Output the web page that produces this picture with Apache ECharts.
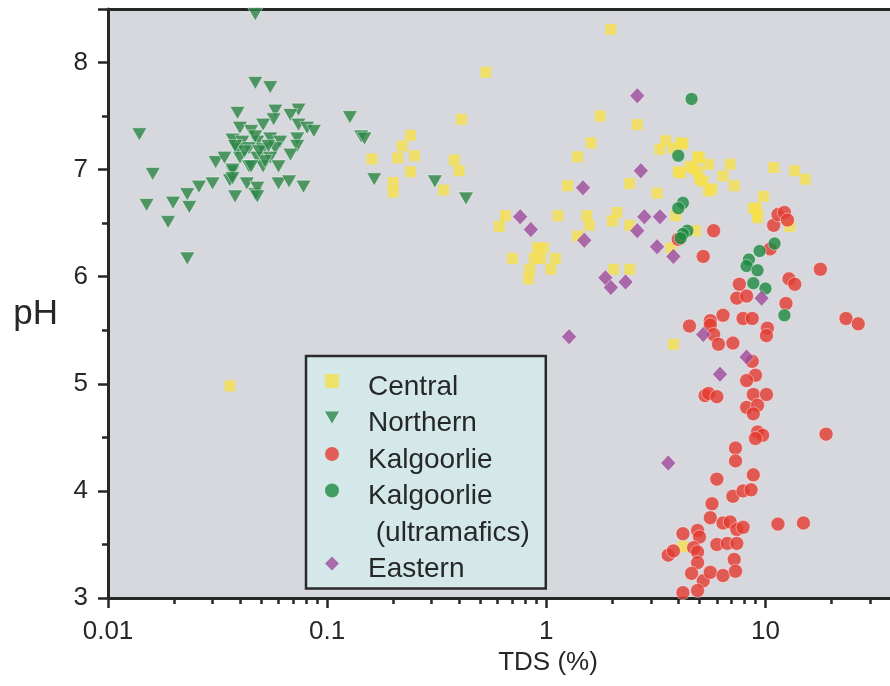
<!DOCTYPE html>
<html>
<head>
<meta charset="utf-8">
<script src="https://cdn.jsdelivr.net/npm/echarts@6/dist/echarts.min.js"></script>
<style>
html,body{margin:0;padding:0;background:#ffffff;}
#chart{width:890px;height:686px;}
</style>
</head>
<body>
<div id="chart"></div>
<script>
// ---- data: [TDS (%), pH] ----
var central = [[1.97,8.31],[0.53,7.91],[0.41,7.47],[1.76,7.50],[2.6,7.42],[1.6,7.25],[1.39,7.12],[0.38,7.09],[0.40,6.99],[0.34,6.81],[1.25,6.85],[2.4,6.87],[3.2,6.78],[1.13,6.57],[1.53,6.57],[0.65,6.57],[0.61,6.47],[2.1,6.60],[2.0,6.52],[1.57,6.48],[1.39,6.38],[2.4,6.48],[0.91,6.27],[0.70,6.17],[0.94,6.17],[1.10,6.17],[0.84,6.07],[1.05,6.07],[0.83,5.98],[2.03,6.07],[2.4,6.07],[3.9,6.57],[4.8,6.43],[3.7,6.27],[3.5,7.27],[4.1,7.25],[3.3,7.19],[3.8,7.2],[4.9,7.12],[4.1,6.97],[4.5,7.03],[4.9,6.98],[5.5,7.05],[5.2,6.89],[5.5,6.80],[6.4,6.94],[6.9,7.05],[7.2,6.85],[10.9,7.02],[13.6,6.99],[15.2,6.91],[9.8,6.75],[9.1,6.64],[9.2,6.58],[12.9,6.47],[4.7,7.01],[5.0,7.11],[4.2,7.24],[4.0,6.98],[5.7,6.82],[5.0,6.91],[8.8,6.64],[9.2,6.55],[0.24,7.32],[0.22,7.22],[0.25,7.13],[0.21,7.11],[0.16,7.10],[0.24,6.98],[0.2,6.88],[0.2,6.79],[0.88,6.17],[0.97,6.27],[0.036,4.98],[3.8,5.37],[4.2,3.48]];
var northern = [[0.047,8.45],[0.047,7.81],[0.055,7.77],[0.0139,7.33],[0.016,6.96],[0.015,6.67],[0.0188,6.51],[0.0198,6.69],[0.023,6.77],[0.0235,6.65],[0.026,6.84],[0.030,6.87],[0.023,6.17],[0.031,7.07],[0.034,7.11],[0.037,6.98],[0.036,6.90],[0.038,6.75],[0.039,7.53],[0.043,6.87],[0.047,6.77],[0.048,6.83],[0.060,6.87],[0.067,6.89],[0.078,6.84],[0.127,7.49],[0.143,7.31],[0.148,7.29],[0.164,6.91],[0.31,6.89],[0.43,6.73],[0.058,7.55],[0.074,7.56],[0.068,7.51],[0.057,7.47],[0.051,7.42],[0.074,7.42],[0.081,7.39],[0.087,7.36],[0.040,7.39],[0.045,7.36],[0.037,7.28],[0.041,7.26],[0.048,7.26],[0.055,7.29],[0.061,7.26],[0.073,7.29],[0.039,7.19],[0.044,7.2],[0.051,7.19],[0.058,7.2],[0.073,7.22],[0.040,7.11],[0.048,7.11],[0.055,7.11],[0.068,7.14],[0.037,7.0],[0.044,7.03],[0.051,7.03],[0.060,7.03],[0.037,6.92],[0.048,6.75],[0.042,7.17],[0.047,7.31],[0.052,7.08],[0.045,7.03],[0.049,7.17],[0.054,7.22],[0.038,7.22]];
var kalgoorlie = [[5.8,6.43],[5.2,6.19],[10.9,6.48],[11.4,6.58],[12.2,6.60],[12.6,6.53],[10.5,6.26],[17.8,6.07],[12.8,5.98],[13.6,5.93],[12.4,5.75],[7.6,5.93],[7.4,5.80],[8.2,5.82],[6.4,5.64],[7.9,5.61],[8.7,5.61],[5.6,5.59],[4.0,6.35],[4.5,5.54],[5.6,5.55],[5.8,5.46],[6.1,5.37],[7.1,5.38],[10.2,5.52],[10.1,5.45],[23.3,5.61],[26.5,5.56],[8.7,5.21],[9.0,5.08],[8.2,5.03],[5.3,4.89],[5.5,4.91],[6.0,4.88],[8.8,4.90],[10.1,4.90],[8.2,4.78],[9.2,4.80],[8.8,4.72],[9.2,4.55],[9.7,4.52],[9.0,4.49],[18.9,4.53],[7.3,4.40],[7.3,4.28],[6.0,4.11],[8.8,4.15],[7.1,3.95],[7.9,4.0],[8.6,4.01],[5.7,3.88],[5.6,3.75],[6.4,3.70],[6.9,3.71],[7.4,3.64],[7.9,3.66],[11.4,3.69],[14.9,3.70],[4.2,3.60],[4.9,3.63],[5.0,3.57],[4.7,3.47],[4.9,3.43],[3.6,3.40],[3.8,3.44],[6.0,3.50],[6.7,3.51],[7.4,3.51],[7.2,3.36],[4.9,3.33],[4.6,3.23],[5.2,3.16],[5.6,3.24],[6.4,3.21],[7.3,3.25],[4.2,3.05],[4.9,3.07]];
var ultramafics = [[4.6,7.66],[4.0,7.13],[4.2,6.69],[4.0,6.64],[4.4,6.43],[4.2,6.40],[4.1,6.36],[11.0,6.31],[9.4,6.24],[8.4,6.16],[8.2,6.10],[9.2,6.06],[8.8,5.94],[10.0,5.89],[12.2,5.64]];
var eastern = [[2.6,7.69],[2.7,6.99],[1.47,6.83],[0.76,6.56],[0.85,6.44],[1.49,6.34],[2.6,6.43],[2.8,6.56],[3.3,6.56],[3.2,6.28],[3.8,6.19],[1.86,5.99],[1.97,5.90],[2.3,5.95],[9.6,5.80],[1.27,5.44],[5.2,5.46],[8.2,5.25],[6.2,5.09],[3.6,4.26]];

var xMinorTicks = [0.02,0.03,0.04,0.05,0.06,0.07,0.08,0.09,0.2,0.3,0.4,0.5,0.6,0.7,0.8,0.9,2,3,4,5,6,7,8,9,20,30];
var legendLabels = {'Kalgoorlie (ultramafics)': 'Kalgoorlie', '(ultramafics)': ' (ultramafics)'};

var FONT = "'Liberation Sans', Arial, sans-serif";
var INK = '#262828';
var XMIN = 0.01, XMAX = 37, YMIN = 3, YMAX = 8.5;
var downTri = 'path://M0,0 L12,0 L6,10.4 Z';
var edge = {borderColor: 'rgba(255,255,255,0.7)', borderWidth: 0.8};

var chart = echarts.init(document.getElementById('chart'), null, {renderer: 'canvas'});
chart.setOption({
  animation: false,
  backgroundColor: '#ffffff',
  grid: {left: 108, right: 0, top: 9, bottom: 88, show: true, backgroundColor: '#d7d8de', borderWidth: 0},
  legend: {
    orient: 'vertical', left: 306, top: 356,
    padding: [5, 16, 5, 19],
    itemWidth: 14, itemHeight: 14, itemGap: -3.5,
    backgroundColor: '#d4e8ea', borderColor: '#2a2a2a', borderWidth: 2.5,
    itemStyle: {borderWidth: 0},
    textStyle: {fontFamily: FONT, fontSize: 28, color: INK,
      rich: {t: {fontFamily: FONT, fontSize: 28, color: INK, lineHeight: 24, padding: [12, 0, 0, 24]}}},
    data: [
      {name: 'Central', icon: 'path://M0,0 L10,0 L10,10 L0,10 Z'},
      {name: 'Northern', icon: downTri},
      {name: 'Kalgoorlie', icon: 'circle'},
      {name: 'Kalgoorlie (ultramafics)', icon: 'circle'},
      {name: '(ultramafics)', icon: 'none'},
      {name: 'Eastern', icon: 'diamond'}
    ],
    formatter: function (n) { return '{t|' + (legendLabels[n] || n) + '}'; },
    selectedMode: false
  },
  xAxis: [{
    type: 'log', logBase: 10, min: XMIN, max: XMAX, position: 'bottom',
    name: 'TDS (%)', nameLocation: 'middle', nameGap: 48,
    nameTextStyle: {fontFamily: FONT, fontSize: 26, color: INK, padding: [0, 0, 0, 98]},
    axisLine: {show: true, onZero: false, lineStyle: {color: INK, width: 3}},
    axisTick: {show: true, inside: false, length: 10, lineStyle: {color: INK, width: 2.5}},
    axisLabel: {fontFamily: FONT, fontSize: 26, color: INK, margin: 21, showMaxLabel: false,
      formatter: function (v) { return v >= 1 ? String(Math.round(v)) : String(+v.toFixed(3)); }},
    splitLine: {show: false}
  }, {
    type: 'log', logBase: 10, min: XMIN, max: XMAX, position: 'bottom',
    axisLine: {show: false},
    axisTick: {show: true, length: 6, customValues: xMinorTicks, lineStyle: {color: INK, width: 2.5}},
    axisLabel: {show: false},
    splitLine: {show: false}
  }, {
    type: 'log', logBase: 10, min: XMIN, max: XMAX, position: 'top',
    axisLine: {show: true, onZero: false, lineStyle: {color: INK, width: 3}},
    axisTick: {show: false}, axisLabel: {show: false}, splitLine: {show: false}
  }],
  yAxis: {
    type: 'value', min: YMIN, max: YMAX, interval: 1,
    name: 'pH', nameLocation: 'middle', nameRotate: 0, nameGap: 50,
    nameTextStyle: {fontFamily: FONT, fontSize: 35, color: INK, verticalAlign: 'top', lineHeight: 21},
    axisLine: {show: true, onZero: false, lineStyle: {color: INK, width: 3}},
    axisTick: {show: true, length: 10, lineStyle: {color: INK, width: 2.5}},
    minorTick: {show: true, splitNumber: 2, length: 6, lineStyle: {color: INK, width: 2.5}},
    axisLabel: {fontFamily: FONT, fontSize: 26, color: INK, margin: 20, showMaxLabel: false},
    splitLine: {show: false}
  },
  series: [
    {name: 'Central', type: 'scatter', data: central, symbol: 'rect', symbolSize: 11,
      itemStyle: {color: '#f5e04b'}},
    {name: 'Northern', type: 'scatter', data: northern, symbol: downTri, symbolSize: [15, 13],
      itemStyle: Object.assign({color: '#2b8645'}, edge)},
    {name: 'Kalgoorlie', type: 'scatter', data: kalgoorlie, symbol: 'circle', symbolSize: 14,
      itemStyle: Object.assign({color: '#e43a2f'}, edge)},
    {name: 'Kalgoorlie (ultramafics)', type: 'scatter', data: ultramafics, symbol: 'circle', symbolSize: 13,
      itemStyle: Object.assign({color: '#1d8a40'}, edge)},
    {name: '(ultramafics)', type: 'scatter', data: [], symbol: 'none', itemStyle: {color: 'transparent'}},
    {name: 'Eastern', type: 'scatter', data: eastern, symbol: 'diamond', symbolSize: [15, 16],
      itemStyle: Object.assign({color: '#9d4b9c'}, edge)}
  ]
});
</script>
</body>
</html>
